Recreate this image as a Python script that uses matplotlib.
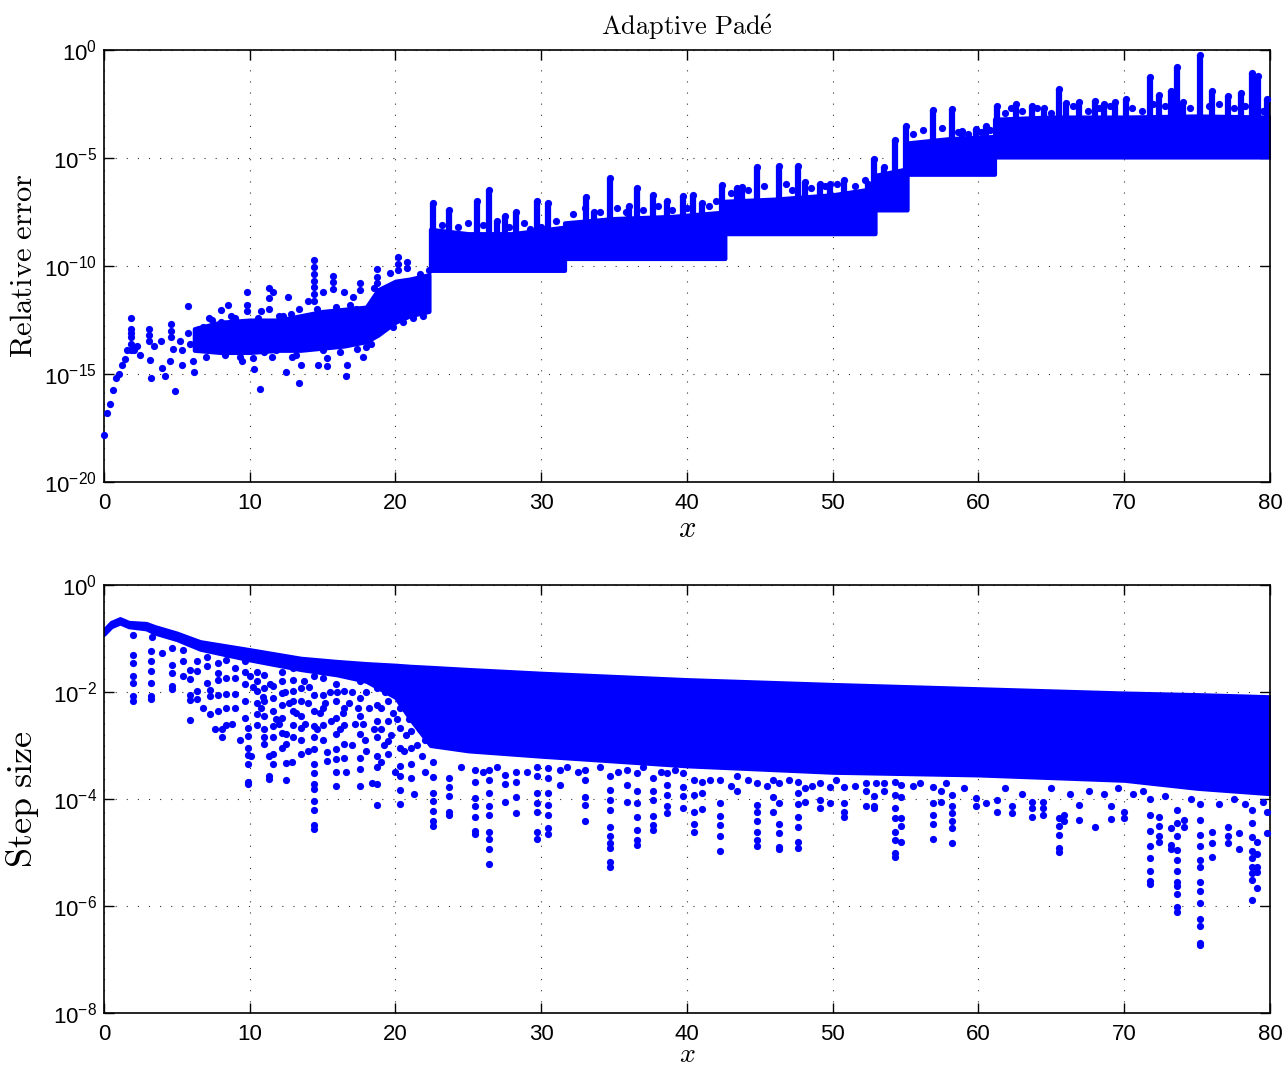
import numpy as np
import matplotlib.pyplot as plt
from matplotlib.ticker import NullLocator

plt.rcParams['font.family'] = ['Liberation Sans', 'DejaVu Sans']
plt.rcParams['mathtext.fontset'] = 'custom'
plt.rcParams['mathtext.rm'] = 'Liberation Sans'
plt.rcParams['mathtext.it'] = 'Liberation Sans:italic'
plt.rcParams['mathtext.bf'] = 'Liberation Sans:bold'

BLUE = '#0000ff'

# ---- top panel: relative error (log10 values) ----
# sparse points for x < 22.5
err_pts_x = [0.0, 0.2, 0.4, 0.6, 0.82, 1.0, 1.22, 1.45, 1.6,
             1.84, 1.84, 1.84, 1.84, 1.84, 1.84, 2.07, 2.3, 2.5,
             3.06, 3.06, 3.06, 3.15, 3.2, 3.45, 3.9, 4.0, 4.2, 4.5,
             4.6, 4.6, 4.6, 4.75, 4.9, 5.2, 5.36, 5.36, 5.8, 5.75, 5.9,
             6.2, 6.1, 6.3, 6.8, 7.4, 8.0, 8.5, 8.7, 9.1, 9.5,
             9.8, 9.8, 9.8, 10.2, 10.3, 10.7, 10.8, 11.3, 11.3, 11.3,
             11.6, 11.8, 12.25, 12.5, 12.6, 12.9, 13.4, 13.5, 13.4, 14.0,
             14.4, 14.4, 14.4, 14.4, 14.4, 14.4, 14.4, 14.7, 15.06, 15.3,
             15.3, 15.7, 15.7, 15.7, 16.6, 16.7, 16.5, 17.06, 17.6, 17.6,
             17.8, 17.35, 18.0, 18.7, 18.7, 18.7, 19.65, 20.2, 20.2, 20.2,
             20.8, 20.8, 21.7, 22.3,
             7.0, 7.8, 8.3, 9.0, 9.3, 10.6, 11.0, 11.5, 12.0, 12.8, 13.2, 14.6,
             15.0, 15.9, 16.2, 16.9, 17.3, 18.3, 18.5, 19.3, 19.8, 20.5, 21.2, 21.9,
             6.5, 7.2, 8.0]
err_pts_log = [-17.8, -16.8, -16.4, -15.75, -15.2, -15.0, -14.6, -14.3, -13.9,
               -12.4, -12.9, -13.1, -13.3, -13.6, -13.9, -13.9, -13.7, -14.1,
               -12.9, -13.2, -13.45, -14.35, -15.2, -13.7, -13.45, -14.7, -15.1, -14.4,
               -12.7, -13.0, -13.3, -13.85, -15.8, -13.45, -14.6, -13.9, -11.85, -13.1, -13.6,
               -14.9, -14.4, -13.45, -12.8, -12.5, -12.05, -11.8, -12.3, -13.9, -14.4,
               -11.2, -11.8, -12.1, -14.25, -14.75, -15.7, -12.1, -11.0, -11.5, -12.0,
               -11.2, -13.9, -12.3, -14.9, -11.45, -14.2, -15.4, -14.6, -12.0, -11.6,
               -9.74, -10.05, -10.36, -10.67, -10.97, -11.28, -11.6, -14.6, -11.2, -14.25,
               -14.65, -10.46, -10.74, -11.05, -15.1, -14.6, -11.2, -11.45, -10.8, -11.1,
               -14.2, -13.85, -13.75, -10.15, -10.5, -10.8, -10.3, -9.6, -9.9, -10.2,
               -9.8, -10.1, -10.35, -10.2,
               -14.2, -13.9, -14.1, -12.4, -14.2, -12.4, -14.0, -14.2, -12.3, -12.2, -14.1, -12.0,
               -13.9, -11.9, -14.0, -11.8, -12.0, -13.6, -11.0, -11.3, -12.8, -12.6, -12.4, -12.3,
               -12.9, -12.4, -12.6]

# dense cloud for 6 < x < 22.4
err_core_x = [6.2, 8, 10, 12, 13.5, 15, 16.5, 18, 18.8, 20, 21, 22.3]
err_core_lo = [-13.9, -14.0, -14.0, -13.9, -13.9, -13.8, -13.7, -13.5, -13.2, -12.6, -12.3, -12.1]
err_core_hi = [-12.9, -12.6, -12.5, -12.5, -12.3, -12.1, -12.0, -11.9, -11.1, -10.7, -10.6, -10.4]

# stepped band for x > 22.4
err_band_x = [22.4, 25, 28, 31.6, 31.6, 35, 39, 42.6, 42.6, 46, 50, 52.9,
              52.9, 55.1, 55.1, 58, 61.1, 61.1, 65, 70, 75, 80]
err_band_lo = [-10.2, -10.2, -10.2, -10.2, -9.65, -9.65, -9.65, -9.65, -8.5, -8.5, -8.5, -8.5,
               -7.4, -7.4, -5.75, -5.75, -5.75, -4.95, -4.95, -4.95, -4.95, -4.95]
err_band_hi = [-8.3, -8.5, -8.5, -8.2, -8.0, -7.8, -7.7, -7.5, -7.0, -6.9, -6.7, -6.4,
               -5.8, -5.5, -4.3, -4.1, -4.0, -3.2, -3.1, -3.1, -3.05, -3.1]

# loose points just above the band top
err_edge_x = [23.2, 24.3, 25.0, 26.0, 27.8, 28.8, 29.2, 30.0, 31.0,
              32.2, 33.0, 34.0, 35.2, 35.8, 37.0, 38.0, 39.0, 40.0, 41.5, 42.0,
              43.0, 44.2, 45.3, 46.8, 47.2, 48.5, 49.5, 50.3, 51.5, 52.2,
              55.5, 56.2, 57.5, 58.6, 59.3, 60.2, 60.8,
              61.8, 62.2, 63.0, 64.0, 65.0, 66.5, 67.5, 68.3, 69.0, 70.5, 71.2, 72.0,
              72.8, 74.5, 75.8, 76.5, 77.5, 78.3, 79.5]
err_edge_log = [-8.1, -8.2, -8.0, -8.1, -8.2, -8.0, -8.3, -8.2, -7.9,
                -7.6, -7.3, -7.5, -7.3, -7.5, -7.4, -7.2, -7.4, -7.3, -7.2, -7.0,
                -6.6, -6.5, -6.3, -6.2, -6.5, -6.4, -6.3, -6.2, -6.3, -6.0,
                -3.9, -3.7, -3.6, -3.8, -3.9, -3.8, -3.7,
                -2.9, -2.7, -2.8, -2.7, -2.9, -2.6, -2.8, -2.7, -2.6, -2.7, -2.8, -2.5,
                -2.6, -2.7, -2.6, -2.5, -2.7, -2.6, -2.8]

# spikes sticking out of the band (x, highest value)
spike_x = [22.6, 23.7, 25.6, 26.4, 27.0, 27.5, 28.3, 29.7, 30.5, 33.1, 33.6, 34.7,
           36.0, 36.6, 37.7, 38.6, 39.7, 40.4, 41.0, 42.4, 43.4, 43.8, 44.8, 46.3,
           47.6, 48.1, 49.1, 49.8, 50.8, 52.4, 52.8, 53.5, 54.3, 55.0, 56.9, 58.2,
           58.9, 59.8, 60.5, 61.3, 62.6, 63.7, 64.5, 65.5, 66.0, 66.9, 68.0, 68.6,
           69.4, 70.1, 71.8, 72.4, 73.2, 73.6, 74.0, 75.2, 76.0, 77.1, 78.0, 78.8,
           79.2, 79.8]
spike_top = [-7.07, -7.4, -7.0, -6.5, -7.9, -7.7, -7.5, -7.0, -7.1, -6.8, -7.5, -5.9,
             -7.2, -6.4, -6.7, -7.0, -6.76, -6.7, -7.1, -6.25, -6.4, -6.36, -5.43, -5.37,
             -5.37, -6.1, -6.2, -6.2, -6.0, -6.2, -5.05, -5.4, -4.17, -3.5, -2.78, -2.73,
             -3.75, -3.67, -3.5, -2.6, -2.5, -2.6, -2.68, -1.8, -2.45, -2.4, -2.36, -2.5,
             -2.4, -2.27, -1.24, -2.08, -1.9, -0.78, -2.4, -0.23, -1.9, -2.13, -1.99, -1.07,
             -1.2, -2.27]

# ---- bottom panel: step size ----
step_band_x = [0, 0.5, 1.1, 1.7, 2.9, 3.5, 5, 6.6, 10, 13.5, 16, 18, 20, 21, 22.4, 25,
               30, 40, 50, 60, 70, 75, 80]
step_band_hi = [-0.84, -0.70, -0.63, -0.70, -0.72, -0.78, -0.90, -1.06, -1.21, -1.37, -1.43,
                -1.47, -1.50, -1.52, -1.54, -1.58, -1.65, -1.77, -1.86, -1.94, -2.02, -2.05, -2.09]
step_band_lo = [-0.92, -0.78, -0.71, -0.78, -0.82, -0.90, -1.02, -1.20, -1.40, -1.58, -1.68,
                -1.80, -2.1, -2.5, -3.0, -3.1, -3.2, -3.38, -3.5, -3.55, -3.65, -3.8, -3.9]

# columns of small steps below the band
col_x = [1.97, 3.2, 3.3, 4.0, 4.7, 5.4, 5.9, 6.4, 7.1, 7.3, 7.8, 8.1, 8.4, 9.0, 9.7, 9.9,
         10.5, 11.0, 11.3, 11.6, 12.2, 12.5, 13.0, 13.5, 14.4, 15.0, 15.3, 15.9, 16.5,
         17.6, 18.7, 19.5, 20.3, 21.1, 22.6,
         23.7, 25.45, 26.4, 27.5, 28.3, 29.7, 30.5, 31.3, 33.0, 34.7, 35.9, 36.6, 37.7,
         38.6, 39.7, 40.5, 41.0, 42.3, 43.4, 44.8, 45.9, 46.3, 47.6, 48.1, 49.1, 49.8,
         50.8, 52.3, 52.8, 53.5, 54.3, 54.7, 56.0, 56.9, 57.4, 58.2, 59.8, 60.5, 61.3,
         62.3, 63.7, 64.4, 65.5, 65.9, 66.9, 68.0, 69.1, 70.0, 71.8, 72.4, 73.2, 73.6,
         74.1, 75.2, 76.0, 77.1, 77.9, 78.8, 79.1, 79.8]
col_logs = [
    [-0.93, -1.31, -1.46, -1.71, -1.83, -2.08, -2.17],
    [-1.24, -1.42, -1.60, -1.83, -2.08, -2.13],
    [-0.97],
    [-1.28],
    [-1.18, -1.49, -1.65, -1.89, -1.94],
    [-1.21, -1.43, -1.71],
    [-1.09, -1.59, -1.76, -2.05, -2.15, -2.53],
    [-1.43, -1.60, -1.98, -2.14],
    [-1.34, -1.52, -1.83],
    [-1.96, -2.08, -2.42],
    [-1.46, -1.65, -1.77, -2.05, -2.36],
    [-2.70, -2.85],
    [-1.40, -1.74, -2.04, -2.30, -2.61],
    [-1.55, -1.74, -2.04, -2.30],
    [-1.43, -1.62, -1.86, -2.17, -2.48],
    [-2.67, -2.82, -3.04, -3.18, -3.34, -3.69, -3.72],
    [-1.62, -1.80, -1.99, -2.20, -2.42, -2.61],
    [-1.68, -1.93, -2.17, -2.45, -2.70, -2.85, -2.98],
    [-3.20, -3.57, -3.62],
    [-1.89, -2.11, -2.36, -2.64, -2.85, -3.16, -3.35],
    [-1.62, -1.80, -2.02, -2.24, -2.48, -2.76, -3.04],
    [-2.79, -2.98, -3.32, -3.64],
    [-1.55, -1.77, -1.99, -2.17, -2.36, -2.61, -2.85],
    [-1.93, -2.17, -2.45, -2.67, -2.89, -3.16],
    [-1.71, -2.05, -2.36, -2.64, -2.85, -3.07, -3.35, -3.52, -3.72, -3.81, -4.03, -4.20, -4.48, -4.56],
    [-1.74, -2.05, -2.30, -2.61, -2.89],
    [-3.13, -3.29],
    [-1.86, -2.17, -2.48, -2.79, -3.07, -3.26, -3.50, -3.75],
    [-1.99, -2.30, -2.61, -2.98, -3.23],
    [-1.80, -2.11, -2.45, -2.79, -3.23, -3.44, -3.75],
    [-1.93, -2.24, -2.54, -2.85, -3.20, -3.41, -3.72, -4.11],
    [-1.80, -2.17, -2.54, -2.92, -3.16],
    [-1.93, -2.30, -2.67, -3.04, -3.38, -3.57, -3.83, -4.09],
    [-2.05, -2.36, -2.73, -3.04, -3.35, -3.60],
    [-2.0, -2.4, -2.8, -3.30, -3.59, -3.88, -4.03, -4.22, -4.42, -4.50],
    [-3.61, -3.77, -3.95, -4.24, -4.30],
    [-3.46, -3.68, -3.99, -4.14, -4.33, -4.59, -4.65],
    [-3.46, -3.65, -3.89, -4.14, -4.30, -4.61, -4.75, -4.94, -5.21],
    [-3.55, -3.72, -4.05],
    [-3.49, -3.68, -3.96, -4.27],
    [-3.40, -3.58, -3.88, -4.08, -4.24, -4.61, -4.74],
    [-3.43, -3.61, -3.88, -4.12, -4.30, -4.55, -4.65],
    [-3.46, -3.74],
    [-3.46, -3.65, -3.96, -4.11, -4.41],
    [-3.58, -3.83, -4.02, -4.20, -4.52, -4.70, -4.82, -4.92, -5.17, -5.28],
    [-3.46, -3.74, -4.05],
    [-3.52, -3.86, -4.08, -4.33, -4.58, -4.77, -4.86],
    [-3.61, -3.86, -4.02, -4.31, -4.48, -4.58],
    [-3.52, -3.74, -3.93, -4.14, -4.27],
    [-3.52, -3.77, -3.95, -4.16],
    [-3.65, -3.93, -4.24, -4.46, -4.61],
    [-3.68, -3.89, -4.18],
    [-3.65, -4.08, -4.31, -4.48, -4.70, -4.97],
    [-3.58, -3.86],
    [-3.71, -4.11, -4.24, -4.42, -4.62, -4.77, -4.87],
    [-3.65, -3.96, -4.24],
    [-3.71, -4.08, -4.46, -4.63, -4.89, -4.94],
    [-3.68, -3.89, -4.09, -4.33, -4.52, -4.80, -4.92],
    [-3.80, -4.05],
    [-3.71, -4.02, -4.17],
    [-3.77, -4.08],
    [-3.77, -4.08, -4.24, -4.33],
    [-3.71, -3.86, -4.14],
    [-3.94, -4.14, -4.17],
    [-3.71, -3.86],
    [-3.68, -3.93, -4.16, -4.35, -4.61, -4.77, -5.01, -5.08],
    [-3.74, -3.96, -4.35, -4.50, -4.80],
    [-3.71],
    [-3.77, -4.08, -4.30, -4.47, -4.75],
    [-3.86, -4.05],
    [-3.93, -4.14, -4.27, -4.42, -4.55, -4.83],
    [-3.99, -4.14],
    [-4.08],
    [-4.02, -4.24],
    [-4.14, -4.27],
    [-4.05, -4.17, -4.33],
    [-4.05, -4.17, -4.30],
    [-4.36, -4.50, -4.67, -4.92, -5.00],
    [-4.30, -4.41],
    [-4.11, -4.39],
    [-4.52],
    [-4.14, -4.38],
    [-4.24, -4.36],
    [-4.0, -4.3, -4.59, -4.88, -5.11, -5.34, -5.53, -5.59],
    [-4.33, -4.50, -4.70, -4.80],
    [-4.55, -4.86, -4.94],
    [-4.2, -4.45, -4.70, -4.95, -5.15, -5.34, -5.56, -5.62, -5.78, -6.01, -6.12],
    [-4.39, -4.53],
    [-4.1, -4.4, -4.67, -4.88, -5.15, -5.28, -5.55, -5.72, -5.95, -6.25, -6.37, -6.70, -6.73],
    [-4.61, -4.82, -5.08],
    [-4.52, -4.70, -4.83],
    [-4.64, -4.94],
    [-4.2, -4.45, -4.72, -4.97, -5.11, -5.28, -5.39, -5.52, -5.88],
    [-4.80, -5.02, -5.27, -5.36, -5.67],
    [-4.24, -4.64],
]

# extra scattered steps, sparse part and the fringe under the band
step_pts_x = [10.2, 10.8, 11.8, 12.7, 13.8, 14.1, 14.8, 15.5, 16.2, 16.8, 17.2, 17.9,
              18.2, 19.0, 19.8, 20.7, 21.5, 22.0, 21.8, 19.2, 17.0, 14.0, 12.9, 8.8,
              7.6, 9.3, 6.8, 10.1, 16.6, 20.0, 21.3, 18.4,
              10.0, 10.9, 11.4, 12.0, 12.4, 13.2, 13.7, 14.0, 14.6, 15.2, 15.6, 16.0,
              16.4, 17.0, 17.4, 17.8, 18.0, 18.5, 19.0, 19.3, 19.7, 20.1, 20.5, 20.9,
              21.3, 21.7, 22.2, 22.0, 21.5, 20.6, 19.0, 18.0,
              24.5, 26.0, 27.0, 29.0, 31.8, 32.5, 34.0, 35.3, 37.0, 38.2, 39.2, 41.6,
              43.0, 44.2, 45.5, 47.0, 48.6, 50.2, 51.5, 53.0, 55.5, 57.8, 59.0, 61.8,
              63.0, 65.0, 66.3, 67.6, 68.6, 69.6, 70.6, 71.3, 72.8, 74.6, 76.5, 77.5,
              78.3, 79.5]
step_pts_log = [-1.9, -2.3, -2.5, -2.2, -2.6, -1.9, -2.4, -2.0, -2.7, -2.2, -2.6, -2.9,
                -2.3, -2.7, -2.4, -2.8, -2.5, -2.9, -3.2, -3.0, -3.0, -3.1, -3.3, -2.6,
                -2.7, -2.9, -2.3, -3.2, -3.5, -3.5, -3.9, -3.7,
                -1.7, -2.1, -1.85, -2.6, -2.0, -2.4, -1.8, -2.2, -2.7, -2.2, -2.55, -2.0,
                -2.4, -2.0, -2.3, -2.6, -2.0, -2.7, -2.3, -2.0, -2.8, -2.5, -2.2, -2.5,
                -2.2, -2.7, -2.5, -3.5, -3.0, -3.1, -3.3, -3.1,
                -3.4, -3.5, -3.4, -3.5, -3.4, -3.5, -3.4, -3.5, -3.4, -3.5, -3.45, -3.65,
                -3.75, -3.65, -3.75, -3.65, -3.75, -3.65, -3.75, -3.7, -3.75, -3.7, -3.8, -3.8,
                -3.9, -3.8, -3.9, -3.85, -3.9, -3.8, -3.9, -3.85, -3.95, -4.0, -4.1, -4.0,
                -4.1, -4.05]


def style(ax, ymin, ymax, ystep):
    ax.set_yscale('log')
    ax.set_xlim(0, 80)
    ax.set_ylim(10.0 ** ymin, 10.0 ** ymax)
    ticks = list(range(ymin, ymax + 1, ystep))
    ax.set_yticks([10.0 ** t for t in ticks])
    ax.set_yticklabels([r'$10^{%d}$' % t for t in ticks])
    ax.yaxis.set_minor_locator(NullLocator())
    ax.set_xticks(range(0, 81, 10))
    ax.tick_params(direction='in', top=True, right=True, length=7, width=1,
                   labelsize=16)
    ax.tick_params(axis='x', pad=8)
    ax.tick_params(axis='y', pad=5)
    ax.grid(True, linestyle=(0, (1, 9)), color='0.2', lw=0.8)
    ax.set_axisbelow(True)
    for s in ax.spines.values():
        s.set_linewidth(1.2)


def dots(ax, x, logs):
    ax.plot(x, 10.0 ** np.asarray(logs), 'o', ms=5.2, color=BLUE, mec='none',
            clip_on=False, zorder=3)


fig = plt.figure(figsize=(12.85, 10.70), dpi=100)
ax1 = fig.add_axes([0.0809, 0.5495, 0.9074, 0.4037])
ax2 = fig.add_axes([0.0809, 0.0533, 0.9074, 0.4])

# top
style(ax1, -20, 0, 5)
ax1.fill_between(err_core_x, 10.0 ** np.array(err_core_lo), 10.0 ** np.array(err_core_hi),
                 color=BLUE, lw=3, zorder=2)
ax1.fill_between(err_band_x, 10.0 ** np.array(err_band_lo), 10.0 ** np.array(err_band_hi),
                 color=BLUE, lw=3, zorder=2)
base = np.interp(spike_x, err_band_x, err_band_lo)
ax1.vlines(spike_x, 10.0 ** base, 10.0 ** np.array(spike_top), color=BLUE, lw=4.5, zorder=2)
dots(ax1, spike_x, spike_top)
dots(ax1, err_edge_x, err_edge_log)
dots(ax1, err_pts_x, err_pts_log)
ax1.set_title(r'$\mathrm{Adaptive\ Pad\acute{e}}$', fontsize=19, math_fontfamily='cm', pad=11)
ax1.set_ylabel(r'$\mathrm{Relative\ error}$', fontsize=22, math_fontfamily='cm')
ax1.yaxis.set_label_coords(-0.056, 0.5)
ax1.set_xlabel(r'$x$', fontsize=22, math_fontfamily='cm', labelpad=0)

# bottom
style(ax2, -8, 0, 2)
ax2.fill_between(step_band_x, 10.0 ** np.array(step_band_lo), 10.0 ** np.array(step_band_hi),
                 color=BLUE, lw=3, zorder=2)
cx = [c for c, ys in zip(col_x, col_logs) for _ in ys]
cy = [v for ys in col_logs for v in ys]
dots(ax2, cx, cy)
dots(ax2, step_pts_x, step_pts_log)
ax2.set_ylabel(r'$\mathrm{Step\ size}$', fontsize=26, math_fontfamily='cm')
ax2.yaxis.set_label_coords(-0.054, 0.5)
ax2.set_xlabel(r'$x$', fontsize=20, math_fontfamily='cm', labelpad=-2)

fig.savefig('out.png', dpi=100)
